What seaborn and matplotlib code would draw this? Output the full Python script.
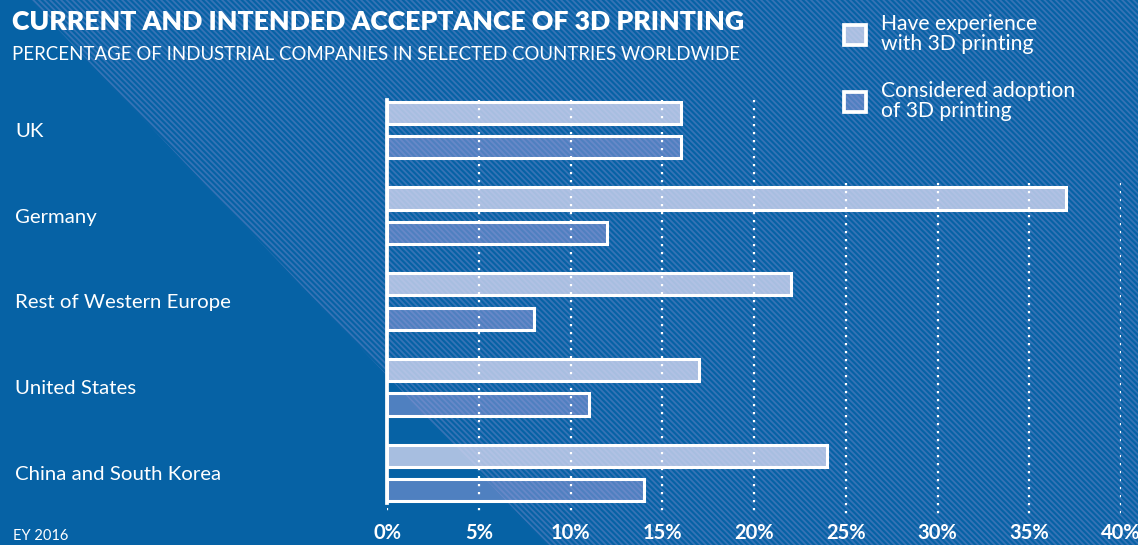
import matplotlib
matplotlib.use("Agg")
import matplotlib.pyplot as plt
import pandas as pd
import seaborn as sns
from matplotlib.patches import Polygon, Patch
from matplotlib.ticker import FuncFormatter

# ---- data -------------------------------------------------------------
countries = ["UK", "Germany", "Rest of Western Europe", "United States",
             "China and South Korea"]
have_experience = [16, 37, 22, 17, 24]
considered_adoption = [16, 12, 8, 11, 14]
series_names = ["Have experience\nwith 3D printing",
                "Considered adoption\nof 3D printing"]
x_ticks = [0, 5, 10, 15, 20, 25, 30, 35, 40]

title = "CURRENT AND INTENDED ACCEPTANCE OF 3D PRINTING"
subtitle = "PERCENTAGE OF INDUSTRIAL COMPANIES IN SELECTED COUNTRIES WORLDWIDE"
source = "EY 2016"

df = pd.DataFrame({
    "country": countries * 2,
    "series": [series_names[0]] * len(countries) + [series_names[1]] * len(countries),
    "share": have_experience + considered_adoption,
})

# ---- style ------------------------------------------------------------
BG = "#0662a5"
STRIPE = "#3673b6"
FILL_LIGHT = (0.82, 0.84, 0.94, 0.80)
FILL_MID = (0.60, 0.62, 0.86, 0.50)

sns.set_theme(style="white")
plt.rcParams["font.family"] = ["Lato", "DejaVu Sans"]
plt.rcParams["hatch.linewidth"] = 1.3
plt.rcParams["hatch.color"] = STRIPE

W, H = 1138, 545
fig = plt.figure(figsize=(W / 100, H / 100), dpi=100, facecolor=BG)


def fpos(x, y):
    """pixel position (from top-left) -> figure fraction"""
    return (x / W, 1 - y / H)


# diagonal striped panel behind the chart
stripes = Polygon([fpos(30, 0), fpos(W, 0), fpos(W, H), fpos(548, H)],
                  closed=True, transform=fig.transFigure, facecolor=BG,
                  edgecolor=STRIPE, hatch="\\" * 6, linewidth=0, zorder=-10)
fig.patches.append(stripes)

ax = fig.add_axes([387 / W, 1 - 515 / H, 734 / W, 415 / H])
ax.set_facecolor("none")

sns.barplot(data=df, y="country", x="share", hue="series", orient="h",
            order=countries, hue_order=series_names,
            palette=["#c8d3ef", "#7f97d6"], saturation=1, errorbar=None,
            width=0.8, gap=0.35, edgecolor="white", linewidth=2.2,
            legend=False, ax=ax)

for container, fill in zip(ax.containers, [FILL_LIGHT, FILL_MID]):
    for bar in container:
        bar.set_facecolor(fill)

y_top, y_bottom = -0.35, 4.49
ax.set_xlim(0, 40)
ax.set_ylim(y_bottom, y_top)
ax.set_xlabel("")
ax.set_ylabel("")

# dotted vertical gridlines over the bars; the ones under the legend
# start just above the Germany group
ax.xaxis.grid(False)
ax.yaxis.grid(False)
grid_start = [y_top if t <= 20 else 0.62 for t in x_ticks]
ax.vlines(x_ticks, grid_start, y_bottom, colors="white",
          linestyles=[(0, (1, 2.6))], linewidth=1.6, zorder=3)

for side in ["top", "right", "bottom"]:
    ax.spines[side].set_visible(False)
ax.spines["left"].set_color("white")
ax.spines["left"].set_linewidth(2.7)
ax.spines["left"].set_bounds(y_top, 4.35)
ax.spines["left"].set_zorder(4)

ax.set_xticks(x_ticks)
ax.xaxis.set_major_formatter(FuncFormatter(lambda v, _: f"{v:.0f}%"))
ax.tick_params(axis="x", length=0, pad=6, labelsize=14.5, labelcolor="white")
for lbl in ax.get_xticklabels():
    lbl.set_fontweight("bold")

ax.tick_params(axis="y", length=0, pad=267.8, labelsize=14.7,
               labelcolor="white")
for lbl in ax.get_yticklabels():
    lbl.set_horizontalalignment("left")

# ---- titles, source, legend ------------------------------------------
fig.text(*fpos(12, 22), title, fontsize=19.2, fontweight="heavy",
         color="white", va="center", ha="left")
fig.text(*fpos(12, 54), subtitle, fontsize=13.4, color="white",
         va="center", ha="left")
fig.text(*fpos(13, 536), source, fontsize=10.5, color="white",
         va="center", ha="left")

handles = [Patch(facecolor=FILL_LIGHT, edgecolor="white", linewidth=2.7),
           Patch(facecolor=FILL_MID, edgecolor="white", linewidth=2.7)]
leg = fig.legend(handles=handles, labels=series_names, loc="upper left",
                 bbox_to_anchor=fpos(844, 14), frameon=False, fontsize=15.2,
                 labelcolor="white", handlelength=1.05, handleheight=1.05,
                 handletextpad=0.7, labelspacing=1.3, borderpad=0,
                 borderaxespad=0)
for txt in leg.get_texts():
    txt.set_linespacing(1.0)

fig.savefig("out.png", dpi=100, facecolor=BG)
